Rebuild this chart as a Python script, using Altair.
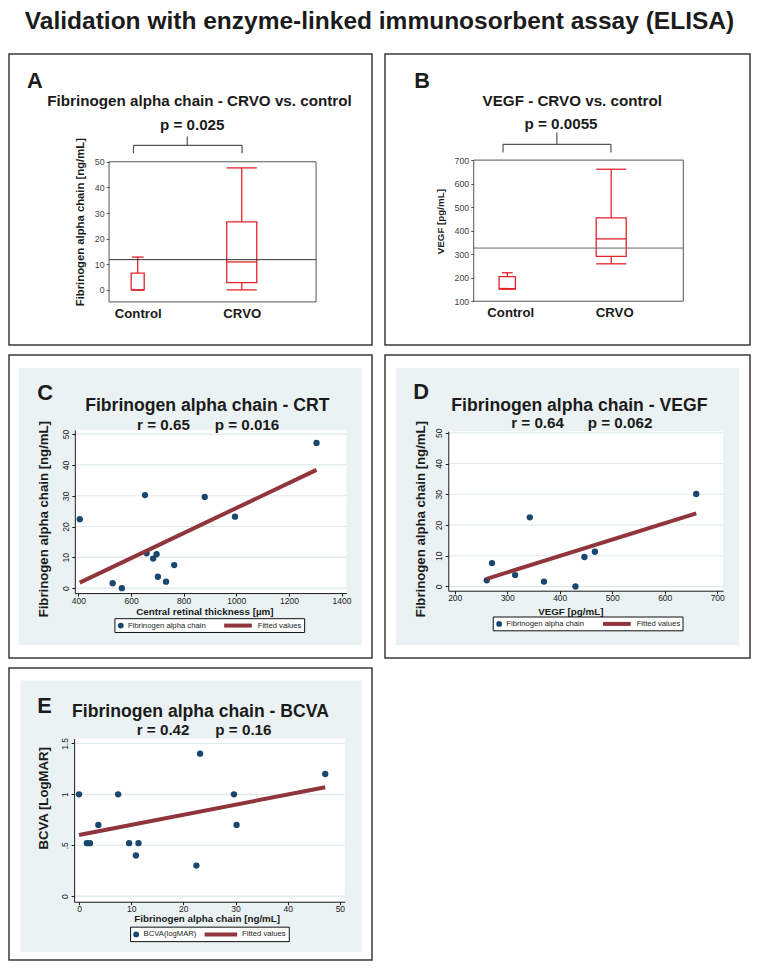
import altair as alt
import pandas as pd

# ------------------------------------------------------------------ data
MAIN_TITLE = "Validation with enzyme-linked immunosorbent assay (ELISA)"
GROUPS = ["Control", "CRVO"]

# A: fibrinogen alpha chain [ng/mL] box statistics (Control, CRVO)
A_LOW = [0.0, 0.0]
A_Q1 = [0.0, 2.8]
A_MEDIAN = [0.0, 10.9]
A_Q3 = [6.5, 26.5]
A_HIGH = [12.8, 47.6]
A_OVERALL = 11.8
A_TICKS = [0, 10, 20, 30, 40, 50]
A_BOTTOM = -4.7

# B: VEGF [pg/mL] box statistics (Control, CRVO)
B_LOW = [152, 259]
B_Q1 = [152, 291]
B_MEDIAN = [154, 365]
B_Q3 = [205, 454]
B_HIGH = [221, 661]
B_OVERALL = 326
B_TICKS = [100, 200, 300, 400, 500, 600, 700]
B_BOTTOM = 100

# C: central retinal thickness [µm] vs fibrinogen alpha chain [ng/mL]
C_CRT = [405, 653, 880, 995, 1305, 659, 684, 697, 702, 733, 764, 530, 565]
C_FIB = [22.4, 30.2, 29.6, 23.2, 47.1, 11.3, 9.6, 11.0, 3.7, 2.1, 7.5, 1.6, 0.0]
C_FIT_X = [405, 1305]
C_FIT_Y = [1.8, 38.4]
C_XTICKS = [400, 600, 800, 1000, 1200, 1400]
C_YTICKS = [0, 10, 20, 30, 40, 50]

# D: VEGF [pg/mL] vs fibrinogen alpha chain [ng/mL]
D_VEGF = [261, 271, 315, 343, 370, 430, 447, 467, 660]
D_FIB = [2.0, 7.6, 3.7, 22.5, 1.6, 0.0, 9.6, 11.3, 30.1]
D_FIT_X = [261, 660]
D_FIT_Y = [2.5, 23.8]
D_XTICKS = [200, 300, 400, 500, 600, 700]
D_YTICKS = [0, 10, 20, 30, 40, 50]

# E: fibrinogen alpha chain [ng/mL] vs BCVA [logMAR]
E_FIB = [0.0, 1.5, 2.1, 3.7, 7.5, 9.6, 10.9, 11.4, 22.5, 23.2, 29.7, 30.2, 47.2]
E_BCVA = [1.0, 0.52, 0.52, 0.7, 1.0, 0.52, 0.4, 0.52, 0.3, 1.4, 1.0, 0.7, 1.2]
E_FIT_X = [0.0, 47.2]
E_FIT_Y = [0.60, 1.07]
E_XTICKS = [0, 10, 20, 30, 40, 50]
E_YTICKS = [0, 0.5, 1, 1.5]

# ------------------------------------------------------------------ style / layout
SX, SY = 0.978, 0.985
FONT = "Liberation Sans"
INK = "#1b1b1b"
FRAME = "#3a3a3a"
NAVY = "#1a476f"
MAROON = "#90353b"
RED = "#e3232c"
BG = "#eaf2f3"
GRID = "#dfe9ec"
ONE = pd.DataFrame({"k": [0]})


def frame(L, T, R, B):
    W = round((R - L) * SX)
    H = round((B - T) * SY)
    return W, H, (lambda x: round((x - L) * SX, 2)), (lambda y: round((y - T) * SY, 2))


def txt(s, x, y, size, align="center", baseline="alphabetic", angle=None, weight="bold", color=INK):
    kw = dict(text=s, font=FONT, fontSize=size, fontWeight=weight, align=align,
              baseline=baseline, color=color)
    if angle is not None:
        kw["angle"] = angle
    return alt.Chart(ONE).mark_text(**kw).encode(x=alt.value(x), y=alt.value(y))


def rect(x1, y1, x2, y2, fill, stroke=None, sw=1.0, fop=1.0):
    kw = dict(fill=fill, fillOpacity=fop)
    if stroke:
        kw.update(stroke=stroke, strokeWidth=sw)
    return alt.Chart(ONE).mark_rect(**kw).encode(
        x=alt.value(x1), x2=alt.value(x2), y=alt.value(y1), y2=alt.value(y2))


def hline(x1, x2, y, color, w):
    return alt.Chart(ONE).mark_rule(color=color, strokeWidth=w).encode(
        x=alt.value(x1), x2=alt.value(x2), y=alt.value(y))


def vline(x, y1, y2, color, w):
    return alt.Chart(ONE).mark_rule(color=color, strokeWidth=w).encode(
        x=alt.value(x), y=alt.value(y1), y2=alt.value(y2))


def box_panel(fr, letter, letter_at, title, title_at, p_text, p_at, bracket, plot,
              cat_x, box_w, cap_w, ylow, ticks, stats, overall, overall_color,
              ytitle, ytitle_at, ytitle_size, label_base, label_shift):
    W, H, lx, ly = fr
    left, right, top, bottom = plot
    df = pd.DataFrame({"group": GROUPS, "low": stats[0], "q1": stats[1],
                       "median": stats[2], "q3": stats[3], "high": stats[4]})
    xsc = alt.Scale(type="point", domain=GROUPS, range=[lx(cat_x[0]), lx(cat_x[1])], padding=0)
    ysc = alt.Scale(domain=[ylow, ticks[-1]], range=[ly(bottom), ly(top)], nice=False, zero=False)
    lab_size = 13.2
    xa = alt.Axis(orient="bottom", offset=ly(bottom) - H, domain=False, ticks=False, tickSize=0,
                  labelAngle=0, labelFont=FONT, labelFontSize=lab_size, labelFontWeight="bold",
                  labelColor=INK, labelPadding=round(ly(label_base) - ly(bottom) - 0.79 * lab_size, 2),
                  labelOffset=label_shift, grid=False, zindex=1)
    ya = alt.Axis(orient="left", offset=-lx(left), values=ticks, domain=False, tickSize=3,
                  tickColor="#555", labelFont=FONT, labelFontSize=8.8, labelColor="#444",
                  labelPadding=2, grid=False, zindex=1)

    def X():
        return alt.X("group:N", scale=xsc, axis=xa, title=None)

    def Y(f):
        return alt.Y(f, scale=ysc, axis=ya, title=None)

    by, bx0, bx1, bend, sx, sy0 = bracket
    layers = [
        txt(letter, lx(letter_at[0]), ly(letter_at[1]), 21.8, align="left"),
        txt(title, lx(title_at[0]), ly(title_at[1]), 15.2),
        txt(p_text, lx(p_at[0]), ly(p_at[1]), 15.2),
        hline(lx(bx0), lx(bx1), ly(by), "#555", 1.2),
        vline(lx(bx0), ly(by), ly(bend), "#555", 1.2),
        vline(lx(bx1), ly(by), ly(bend), "#555", 1.2),
        vline(lx(sx), ly(sy0), ly(by), "#555", 1.2),
        rect(lx(left), ly(top), lx(right), ly(bottom), "white", stroke="#555", sw=1.0, fop=0),
        txt(ytitle, lx(ytitle_at[0]), ly(ytitle_at[1]), ytitle_size, baseline="middle", angle=270),
    ]
    for i in range(len(GROUPS)):
        sub = df.iloc[[i]]
        layers += [
            alt.Chart(sub).mark_rule(color=RED, strokeWidth=1.3).encode(
                x=X(), y=Y("high:Q"), y2="q3:Q"),
            alt.Chart(sub).mark_rule(color=RED, strokeWidth=1.3).encode(
                x=X(), y=Y("q1:Q"), y2="low:Q"),
            alt.Chart(sub).mark_bar(size=box_w[i] * SX, fill="white", fillOpacity=0,
                                    stroke=RED, strokeWidth=1.3).encode(
                x=X(), y=Y("q1:Q"), y2="q3:Q"),
            alt.Chart(sub).mark_tick(orient="horizontal", size=box_w[i] * SX, thickness=1.3,
                                     color=RED, opacity=1).encode(x=X(), y=Y("median:Q")),
            alt.Chart(sub).mark_tick(orient="horizontal", size=cap_w[i] * SX, thickness=1.3,
                                     color=RED, opacity=1).encode(x=X(), y=Y("high:Q")),
            alt.Chart(sub).mark_tick(orient="horizontal", size=cap_w[i] * SX, thickness=1.3,
                                     color=RED, opacity=1).encode(x=X(), y=Y("low:Q")),
        ]
    layers.append(
        alt.Chart(pd.DataFrame({"v": [overall]})).mark_rule(color=overall_color, strokeWidth=1).encode(
            y=Y("v:Q"), x=alt.value(lx(left)), x2=alt.value(lx(right))))
    return alt.layer(*layers).properties(width=W, height=H)


def edge(cal, p):
    v0, p0, v1, p1 = cal
    return v0 + (p - p0) * (v1 - v0) / (p1 - p0)


def scatter_panel(fr, letter, letter_at, title, title_at, r_text, r_at, p_text, p_at, bg, plot,
                  xcal, ycal, xticks, yticks, xs, ys, fit_x, fit_y, xtitle, xtitle_at,
                  ytitle, ytitle_at, legend, series_name, y_label_expr=None):
    W, H, lx, ly = fr
    left, right, top, bottom = plot
    xsc = alt.Scale(domain=[edge(xcal, left), edge(xcal, right)], range=[lx(left), lx(right)],
                    nice=False, zero=False)
    ysc = alt.Scale(domain=[edge(ycal, bottom), edge(ycal, top)], range=[ly(bottom), ly(top)],
                    nice=False, zero=False)
    xa = alt.Axis(orient="bottom", offset=ly(bottom) - H, values=xticks, format="d",
                  tickSize=3, tickColor=INK, domainColor=INK, labelFont=FONT, labelFontSize=8.5,
                  labelColor=INK, labelPadding=0.2, labelFlush=False, labelOverlap=False,
                  grid=False, zindex=1)
    ya_kw = dict(orient="left", offset=-lx(left), values=yticks, tickSize=3, tickColor=INK,
                 domainColor=INK, labelFont=FONT, labelFontSize=8.5, labelColor=INK,
                 labelAngle=270, labelAlign="center", labelBaseline="bottom", labelPadding=1.5,
                 labelFlush=False, labelOverlap=False, grid=False, zindex=1)
    if y_label_expr:
        ya_kw["labelExpr"] = y_label_expr
    ya = alt.Axis(**ya_kw)

    def X(f):
        return alt.X(f, scale=xsc, axis=xa, title=None)

    def Y(f):
        return alt.Y(f, scale=ysc, axis=ya, title=None)

    pts = pd.DataFrame({"x": xs, "y": ys})
    fit = pd.DataFrame({"x": fit_x, "y": fit_y})
    grid = pd.DataFrame({"v": yticks})
    gx0, gy0, gx1, gy1, mx, tx, l1, l2, fx = legend
    cy = (gy0 + gy1) / 2
    layers = [
        rect(lx(bg[0]), ly(bg[1]), lx(bg[2]), ly(bg[3]), BG),
        rect(lx(left), ly(top), lx(right), ly(bottom), "white"),
        alt.Chart(grid).mark_rule(color=GRID, strokeWidth=1.1).encode(
            y=Y("v:Q"), x=alt.value(lx(left)), x2=alt.value(lx(right))),
        alt.Chart(pts).mark_circle(size=40, color=NAVY, opacity=1).encode(x=X("x:Q"), y=Y("y:Q")),
        alt.Chart(fit).mark_line(color=MAROON, strokeWidth=4).encode(x=X("x:Q"), y=Y("y:Q")),
        txt(letter, lx(letter_at[0]), ly(letter_at[1]), 21.8, align="left"),
        txt(title, lx(title_at[0]), ly(title_at[1]), 17.6),
        txt(r_text, lx(r_at[0]), ly(r_at[1]), 15.2, align="left"),
        txt(p_text, lx(p_at[0]), ly(p_at[1]), 15.2, align="left"),
        txt(xtitle, lx(xtitle_at[0]), ly(xtitle_at[1]), 9.8),
        txt(ytitle, lx(ytitle_at[0]), ly(ytitle_at[1]), 13.2, baseline="middle", angle=270),
        rect(lx(gx0), ly(gy0), lx(gx1), ly(gy1), "white", stroke="#111", sw=1.0),
        alt.Chart(ONE).mark_circle(size=34, color=NAVY, opacity=1).encode(
            x=alt.value(lx(mx)), y=alt.value(ly(cy))),
        txt(series_name, lx(tx), ly(cy), 7.7, align="left", baseline="middle", weight="normal"),
        hline(lx(l1), lx(l2), ly(cy), MAROON, 4),
        txt("Fitted values", lx(fx), ly(cy), 7.7, align="left", baseline="middle", weight="normal"),
    ]
    return alt.layer(*layers).properties(width=W, height=H)


pA = box_panel(
    frame(1.7, 47.3, 372.7, 343), "A", (20, 82),
    "Fibrinogen alpha chain - CRVO vs. control", (196.5, 100), "p = 0.025", (189, 124),
    (140, 129, 240, 148, 184, 131), (104, 315.7, 156.7, 299),
    (133.3, 239.7), (13.3, 30.7), (12, 30.7), A_BOTTOM, A_TICKS,
    (A_LOW, A_Q1, A_MEDIAN, A_Q3, A_HIGH), A_OVERALL, "#333333",
    "Fibrinogen alpha chain [ng/mL]", (75, 218), 11.3, 315, 0)

pB = box_panel(
    frame(386, 47.3, 758.7, 343), "B", (416, 82),
    "VEGF - CRVO vs. control", (577.5, 100), "p = 0.0055", (566, 123),
    (139, 506.7, 617, 147.3, 561.7, 127), (476.7, 691, 155, 298.3),
    (511, 617.3), (16.7, 30.7), (11, 30.7), B_BOTTOM, B_TICKS,
    (B_LOW, B_Q1, B_MEDIAN, B_Q3, B_HIGH), B_OVERALL, "#666666",
    "VEGF [pg/mL]", (443, 217.5), 9.8, 314, 3)

pC = scatter_panel(
    frame(1.7, 355, 372.7, 662.3), "C", (30.7, 401),
    "Fibrinogen alpha chain - CRT", (204.5, 412.3), "r = 0.65", (132.7, 431), "p = 0.016", (212, 431),
    (11.7, 368.3, 362.3, 649.3), (69, 346.7, 431, 596.7),
    (400, 72.7, 1400, 341.7), (0, 591.7, 50, 435.3), C_XTICKS, C_YTICKS,
    C_CRT, C_FIB, C_FIT_X, C_FIT_Y,
    "Central retinal thickness [µm]", (202, 619),
    "Fibrinogen alpha chain [ng/mL]", (37.3, 521.7),
    (110, 622.7, 304, 636.7, 116, 123.3, 221.7, 250, 256), "Fibrinogen alpha chain")

pD = scatter_panel(
    frame(386, 355, 758.7, 662.3), "D", (415, 400),
    "Fibrinogen alpha chain - VEGF", (584.7, 412.3), "r = 0.64", (515, 429), "p = 0.062", (593.3, 429),
    (397.3, 368.3, 748.3, 649.3), (450.7, 731.7, 432.3, 594.3),
    (200, 457.3, 700, 725.7), (0, 590, 50, 434), D_XTICKS, D_YTICKS,
    D_VEGF, D_FIB, D_FIT_X, D_FIT_Y,
    "VEGF [pg/mL]", (576, 619),
    "Fibrinogen alpha chain [ng/mL]", (423.3, 521.7),
    (496.7, 621, 690.7, 635, 502.7, 510, 609, 637.3, 643.3), "Fibrinogen alpha chain")

pE = scatter_panel(
    frame(1.7, 671.7, 372.7, 968.3), "E", (30.7, 717.7),
    "Fibrinogen alpha chain - BCVA", (197.5, 721.7), "r = 0.42", (132.3, 740), "p = 0.16", (212.7, 740),
    (13.3, 684.3, 362.3, 960), (68.3, 345, 743.3, 909),
    (0, 73.3, 50, 340), (0, 903.3, 1.5, 748.3), E_XTICKS, E_YTICKS,
    E_FIB, E_BCVA, E_FIT_X, E_FIT_Y,
    "Fibrinogen alpha chain [ng/mL]", (204.3, 930),
    "BCVA [LogMAR]", (37.3, 804),
    (126, 934.8, 288.3, 949.5, 131.7, 139.3, 201.7, 235, 240), "BCVA(logMAR)",
    y_label_expr="datum.value == 0.5 ? '.5' : toString(datum.value)")

chart = alt.concat(
    pA, pB, pC, pD, pE, columns=2, spacing={"row": 10, "column": 13},
    align="each", bounds="flush",
).properties(
    title=alt.TitleParams(MAIN_TITLE, font=FONT, fontSize=24.5, fontWeight="bold", color=INK,
                          anchor="middle", offset=19),
    padding=0,
).configure_view(stroke=FRAME, strokeWidth=1.5)

chart.save("out.html", embed_options={"renderer": "svg", "actions": False})
